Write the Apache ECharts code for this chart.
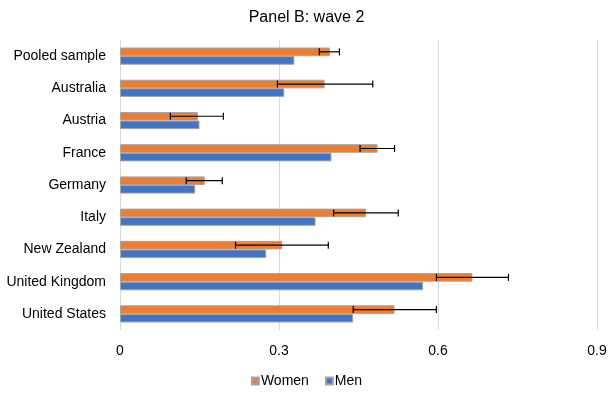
<!DOCTYPE html>
<html><head><meta charset="utf-8">
<script src="https://cdn.jsdelivr.net/npm/echarts@6/dist/echarts.min.js"></script>
<style>html,body{margin:0;padding:0;background:#fff}#c{width:613px;height:393px}</style>
</head><body><div id="c"></div>
<script>
const categories = ['Pooled sample','Australia','Austria','France','Germany','Italy','New Zealand','United Kingdom','United States'];
const women = [0.396, 0.386, 0.147, 0.486, 0.160, 0.464, 0.306, 0.665, 0.518];
const men = [0.329, 0.310, 0.150, 0.399, 0.142, 0.369, 0.276, 0.572, 0.440];
const womenLow = [0.376, 0.297, 0.095, 0.453, 0.125, 0.403, 0.218, 0.597, 0.440];
const womenHigh = [0.414, 0.477, 0.195, 0.518, 0.193, 0.525, 0.393, 0.733, 0.597];
const xTicks = [0, 0.3, 0.6, 0.9];

const BW = 8.6;
const font = 'Liberation Sans';
const chart = echarts.init(document.getElementById('c'));
chart.setOption({
  animation: false,
  textStyle: {fontFamily: font},
  title: {text: 'Panel B: wave 2', left: 'center', top: 5,
    textStyle: {fontFamily: font, fontSize: 16, fontWeight: 'normal', color: '#000'}},
  legend: {data: ['Women','Men'], top: 369, left: 'center', itemWidth: 7, itemHeight: 7, itemGap: 16,
    textStyle: {fontFamily: font, fontSize: 14, color: '#000', padding: [0,0,0,-3]},
    icon: 'rect'},
  grid: {left: 120, right: 16, top: 40, bottom: 63, containLabel: false},
  xAxis: {type: 'value', min: xTicks[0], max: xTicks[xTicks.length-1], interval: 0.3,
    axisLine: {show: false}, axisTick: {show: false},
    splitLine: {lineStyle: {color: '#d9d9d9', width: 1}},
    axisLabel: {fontFamily: font, fontSize: 14, color: '#000', margin: 14}},
  yAxis: {type: 'category', data: categories, inverse: true,
    axisLine: {show: true, lineStyle: {color: '#d9d9d9'}}, axisTick: {show: false},
    axisLabel: {fontFamily: font, fontSize: 14, color: '#000', margin: 14}},
  series: [
    {name: 'Women', type: 'bar', data: women, barWidth: BW, barGap: '0%',
      itemStyle: {color: '#ED7D31', borderColor: '#a5a5a5', borderWidth: 1}},
    {name: 'Men', type: 'bar', data: men, barWidth: BW, barGap: '0%',
      itemStyle: {color: '#4472C4', borderColor: '#a5a5a5', borderWidth: 1}},
    {type: 'custom', name: 'err', z: 10, silent: true,
      data: categories.map((c,i)=>[i, womenLow[i], womenHigh[i]]),
      encode: {x: [1,2], y: 0},
      renderItem: function(params, api){
        const i = api.value(0);
        const p1 = api.coord([api.value(1), i]);
        const p2 = api.coord([api.value(2), i]);
        const y = p1[1] - BW/2;
        const h = 3.5;
        const st = {stroke: '#000', lineWidth: 1.2};
        return {type: 'group', children: [
          {type: 'line', shape: {x1: p1[0], y1: y, x2: p2[0], y2: y}, style: st},
          {type: 'line', shape: {x1: p1[0], y1: y-h, x2: p1[0], y2: y+h}, style: st},
          {type: 'line', shape: {x1: p2[0], y1: y-h, x2: p2[0], y2: y+h}, style: st}
        ]};
      }}
  ]
});
</script></body></html>
